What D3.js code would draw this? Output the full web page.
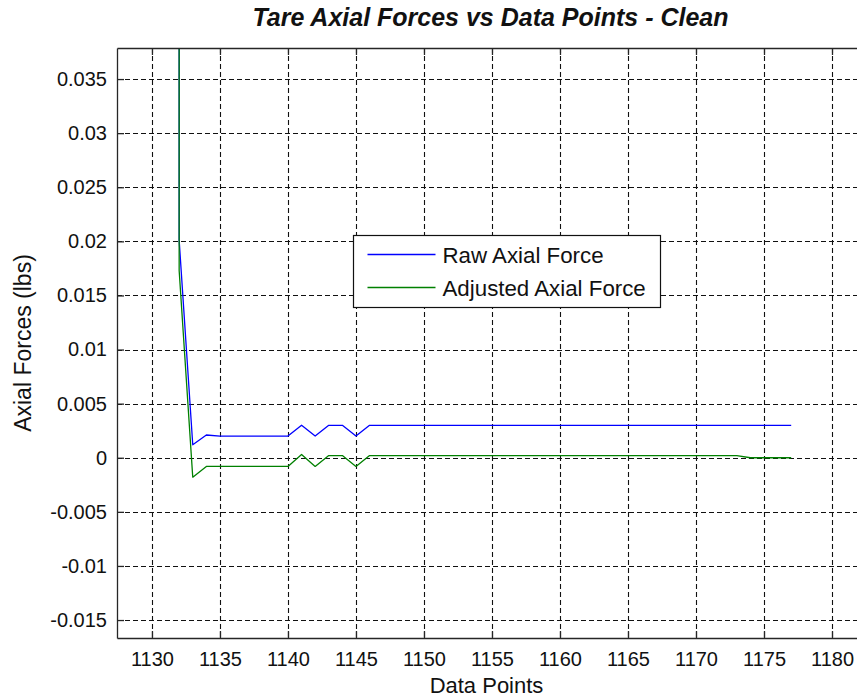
<!DOCTYPE html>
<html>
<head>
<meta charset="utf-8">
<script src="https://cdn.jsdelivr.net/npm/d3@7"></script>
<style>
  html, body { margin: 0; padding: 0; background: #fff; }
  svg { display: block; font-family: Arial, "Liberation Sans", sans-serif; }
</style>
</head>
<body>
<svg id="chart" width="857" height="700"></svg>
<script>
// ---- data ----
const dataPoints = [1132, 1132, 1133, 1134, 1135, 1136, 1137, 1138, 1139, 1140,
  1141, 1142, 1143, 1144, 1145, 1146, 1147, 1148, 1149, 1150,
  1151, 1152, 1153, 1154, 1155, 1156, 1157, 1158, 1159, 1160,
  1161, 1162, 1163, 1164, 1165, 1166, 1167, 1168, 1169, 1170,
  1171, 1172, 1173, 1174, 1175, 1176, 1177];
const rawAxialForce = [0.06, 0.0201, 0.0012, 0.0021, 0.002, 0.002, 0.002, 0.002, 0.002, 0.002,
  0.003, 0.002, 0.003, 0.003, 0.002, 0.003, 0.003, 0.003, 0.003, 0.003,
  0.003, 0.003, 0.003, 0.003, 0.003, 0.003, 0.003, 0.003, 0.003, 0.003,
  0.003, 0.003, 0.003, 0.003, 0.003, 0.003, 0.003, 0.003, 0.003, 0.003,
  0.003, 0.003, 0.003, 0.003, 0.003, 0.003, 0.003];
const adjustedAxialForce = [0.06, 0.0173, -0.0018, -0.0008, -0.0008, -0.0008, -0.0008, -0.0008, -0.0008, -0.0008,
  0.0003, -0.0008, 0.0002, 0.0002, -0.0008, 0.0002, 0.0002, 0.0002, 0.0002, 0.0002,
  0.0002, 0.0002, 0.0002, 0.0002, 0.0002, 0.0002, 0.0002, 0.0002, 0.0002, 0.0002,
  0.0002, 0.0002, 0.0002, 0.0002, 0.0002, 0.0002, 0.0002, 0.0002, 0.0002, 0.0002,
  0.0002, 0.0002, 0.0002, 0.0, 0.0, 0.0, 0.0];
const xTicks = [1130, 1135, 1140, 1145, 1150, 1155, 1160, 1165, 1170, 1175, 1180];
const yTicks = [-0.015, -0.01, -0.005, 0, 0.005, 0.01, 0.015, 0.02, 0.025, 0.03, 0.035];
const xLimits = [1127.43, 1182.5];
const yLimits = [-0.01666, 0.03787];
const seriesNames = ["Raw Axial Force", "Adjusted Axial Force"];
const seriesColors = ["#0000ff", "#008000"];
const titleText = "Tare Axial Forces vs Data Points - Clean";
const xLabel = "Data Points";
const yLabel = "Axial Forces (lbs)";

// ---- layout ----
const plot = { left: 117, top: 48, right: 866, bottom: 638 };
const svg = d3.select("#chart");
const x = d3.scaleLinear().domain(xLimits).range([plot.left, plot.right]);
const y = d3.scaleLinear().domain(yLimits).range([plot.bottom, plot.top]);
const textColor = "#111";
const fmtY = v => {
  if (Math.abs(v) < 1e-12) return "0";
  return String(+v.toFixed(3));
};

// clip
svg.append("defs").append("clipPath").attr("id", "clip")
  .append("rect").attr("x", plot.left).attr("y", plot.top)
  .attr("width", plot.right - plot.left).attr("height", plot.bottom - plot.top);

// grid
const grid = svg.append("g").attr("stroke", "#111").attr("stroke-width", 1.1)
  .attr("stroke-dasharray", "5,3").attr("fill", "none");
grid.selectAll("line.gx").data(xTicks).join("line").attr("class", "gx")
  .attr("x1", d => Math.round(x(d)) + 0.5).attr("x2", d => Math.round(x(d)) + 0.5)
  .attr("y1", plot.top).attr("y2", plot.bottom);
grid.selectAll("line.gy").data(yTicks).join("line").attr("class", "gy")
  .attr("y1", d => Math.round(y(d)) + 0.5).attr("y2", d => Math.round(y(d)) + 0.5)
  .attr("x1", plot.left).attr("x2", plot.right);

// lines
const series = [rawAxialForce, adjustedAxialForce];
const lineGen = vals => d3.line()
  .x((d, i) => x(dataPoints[i]))
  .y(d => y(d))(vals);
const lg = svg.append("g").attr("clip-path", "url(#clip)");
series.forEach((vals, k) => {
  lg.append("path").attr("d", lineGen(vals)).attr("fill", "none")
    .attr("stroke", seriesColors[k]).attr("stroke-width", 1.3)
    .attr("stroke-linejoin", "round");
});

// axes with inward ticks (MATLAB style)
const tickLen = 7;
const axBottom = svg.append("g").attr("transform", `translate(0,${plot.bottom})`)
  .call(d3.axisBottom(x).tickValues(xTicks).tickSizeInner(-tickLen).tickSizeOuter(0)
    .tickPadding(14).tickFormat(d3.format("d")));
const axTop = svg.append("g").attr("transform", `translate(0,${plot.top})`)
  .call(d3.axisTop(x).tickValues(xTicks).tickSizeInner(-tickLen).tickSizeOuter(0).tickFormat(""));
const axLeft = svg.append("g").attr("transform", `translate(${plot.left},0)`)
  .call(d3.axisLeft(y).tickValues(yTicks).tickSizeInner(-tickLen).tickSizeOuter(0).tickPadding(10).tickFormat(fmtY));
const axRight = svg.append("g").attr("transform", `translate(${plot.right},0)`)
  .call(d3.axisRight(y).tickValues(yTicks).tickSizeInner(-tickLen).tickSizeOuter(0).tickFormat(""));
[axBottom, axTop, axLeft, axRight].forEach(a => {
  a.select(".domain").attr("stroke", "#262626").attr("stroke-width", 1.3);
  a.selectAll(".tick line").attr("stroke", "#262626").attr("stroke-width", 1.3);
  a.selectAll(".tick text").attr("fill", textColor)
    .attr("font-size", 20).attr("font-family", "Arial, 'Liberation Sans', sans-serif");
});

// title & labels
svg.append("text").attr("x", (plot.left + plot.right) / 2 - 1).attr("y", 26)
  .attr("text-anchor", "middle").attr("font-size", 25).attr("font-weight", "bold")
  .attr("font-style", "italic").attr("fill", textColor).text(titleText);
svg.append("text").attr("x", (plot.left + plot.right) / 2 - 5).attr("y", 693)
  .attr("text-anchor", "middle").attr("font-size", 22).attr("fill", textColor).text(xLabel);
svg.append("text").attr("transform", `translate(31,${(plot.top + plot.bottom) / 2}) rotate(-90)`)
  .attr("text-anchor", "middle").attr("font-size", 23).attr("fill", textColor).text(yLabel);

// legend
const leg = svg.append("g").attr("transform", "translate(353.5,235.5)");
leg.append("rect").attr("width", 307).attr("height", 72)
  .attr("fill", "#fff").attr("stroke", "#111").attr("stroke-width", 1.2);
seriesNames.forEach((name, k) => {
  const yy = 19 + k * 33;
  leg.append("line").attr("x1", 14).attr("x2", 82).attr("y1", yy).attr("y2", yy)
    .attr("stroke", seriesColors[k]).attr("stroke-width", 1.3);
  leg.append("text").attr("x", 89).attr("y", yy + 8).attr("font-size", 22.3)
    .attr("fill", textColor).text(name);
});
</script>
</body>
</html>
